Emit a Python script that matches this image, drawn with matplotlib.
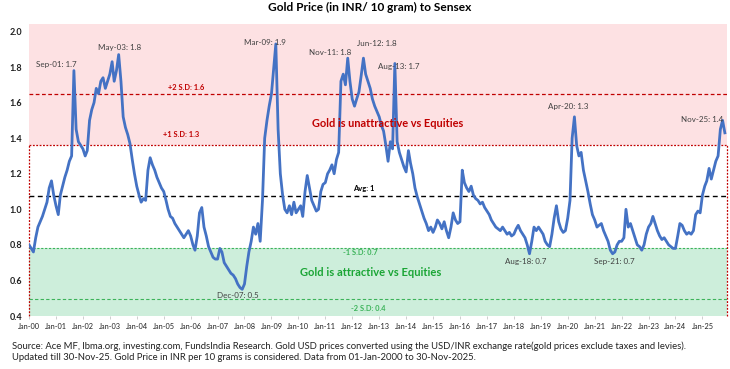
"""
Gold Price (INR / 10 gram) to Sensex ratio, with mean and S.D. bands.
"""
import numpy as np
import pandas as pd
import matplotlib
matplotlib.use("Agg")
import matplotlib.pyplot as plt

plt.rcParams["font.family"] = ["Lato", "DejaVu Sans"]

# monthly ratio, Jan-2000 .. Nov-2025
RATIO = {
    2000: [0.80, 0.78, 0.76, 0.84, 0.90, 0.93, 0.96, 1.00, 1.04, 1.12, 1.16, 1.08],
    2001: [1.02, 0.97, 1.08, 1.13, 1.18, 1.22, 1.27, 1.30, 1.78, 1.45, 1.38, 1.36],
    2002: [1.34, 1.30, 1.33, 1.50, 1.56, 1.60, 1.68, 1.65, 1.72, 1.74, 1.68, 1.72],
    2003: [1.76, 1.83, 1.72, 1.78, 1.87, 1.72, 1.52, 1.46, 1.42, 1.37, 1.28, 1.20],
    2004: [1.13, 1.08, 1.04, 1.06, 1.05, 1.22, 1.29, 1.25, 1.22, 1.18, 1.15, 1.12],
    2005: [1.10, 1.05, 1.00, 0.96, 0.95, 0.92, 0.90, 0.88, 0.86, 0.84, 0.86, 0.88],
    2006: [0.85, 0.80, 0.77, 0.85, 0.98, 1.01, 0.90, 0.85, 0.79, 0.76, 0.73, 0.72],
    2007: [0.72, 0.78, 0.76, 0.70, 0.68, 0.66, 0.64, 0.63, 0.61, 0.58, 0.56, 0.55],
    2008: [0.58, 0.68, 0.76, 0.82, 0.90, 0.86, 0.92, 0.82, 1.05, 1.40, 1.50, 1.58],
    2009: [1.65, 1.80, 1.93, 1.45, 1.20, 1.08, 1.00, 0.98, 1.02, 0.97, 1.04, 0.98],
    2010: [1.00, 1.02, 0.96, 1.10, 1.19, 1.12, 1.05, 1.02, 0.99, 1.00, 1.10, 1.14],
    2011: [1.15, 1.20, 1.22, 1.25, 1.20, 1.28, 1.32, 1.72, 1.76, 1.70, 1.85, 1.72],
    2012: [1.62, 1.58, 1.62, 1.66, 1.75, 1.85, 1.76, 1.72, 1.68, 1.62, 1.58, 1.55],
    2013: [1.52, 1.47, 1.44, 1.36, 1.27, 1.38, 1.34, 1.82, 1.38, 1.32, 1.28, 1.24],
    2014: [1.21, 1.33, 1.26, 1.20, 1.12, 1.07, 1.03, 0.99, 0.95, 0.92, 0.88, 0.90],
    2015: [0.87, 0.90, 0.94, 0.92, 0.89, 0.93, 0.88, 0.84, 0.90, 0.98, 0.94, 0.92],
    2016: [0.93, 1.22, 1.15, 1.12, 1.10, 1.13, 1.08, 1.06, 1.05, 1.03, 1.04, 1.01],
    2017: [0.99, 0.97, 0.94, 0.92, 0.90, 0.89, 0.88, 0.90, 0.88, 0.86, 0.87, 0.85],
    2018: [0.86, 0.89, 0.91, 0.88, 0.86, 0.84, 0.80, 0.75, 0.82, 0.90, 0.88, 0.90],
    2019: [0.88, 0.86, 0.82, 0.80, 0.79, 0.86, 0.95, 1.02, 0.93, 0.89, 0.87, 0.88],
    2020: [0.95, 1.05, 1.40, 1.52, 1.36, 1.30, 1.32, 1.22, 1.16, 1.10, 1.03, 0.97],
    2021: [0.94, 0.90, 0.91, 0.92, 0.88, 0.85, 0.82, 0.77, 0.75, 0.76, 0.80, 0.82],
    2022: [0.82, 0.84, 1.00, 0.90, 0.92, 0.88, 0.84, 0.80, 0.79, 0.77, 0.80, 0.86],
    2023: [0.90, 0.92, 0.96, 0.92, 0.88, 0.85, 0.83, 0.84, 0.82, 0.80, 0.79, 0.78],
    2024: [0.78, 0.85, 0.92, 0.91, 0.88, 0.86, 0.87, 0.86, 0.88, 0.97, 0.99, 0.98],
    2025: [1.08, 1.13, 1.16, 1.23, 1.17, 1.22, 1.27, 1.30, 1.45, 1.50, 1.43],
}

AVG = 1.072
PLUS_1SD = 1.360
PLUS_2SD = 1.648
MINUS_1SD = 0.784
MINUS_2SD = 0.496

# (label, axes-x, axes-y)
CALLOUTS = [
    ("Sep-01: 1.7", 0.039, 0.863),
    ("May-03: 1.8", 0.130, 0.921),
    ("Mar-09: 1.9", 0.338, 0.938),
    ("Nov-11: 1.8", 0.431, 0.904),
    ("Jun-12: 1.8", 0.499, 0.932),
    ("Aug-13: 1.7", 0.530, 0.856),
    ("Apr-20: 1.3", 0.772, 0.716),
    ("Nov-25: 1.4", 0.964, 0.672),
    ("Dec-07: 0.5", 0.299, 0.069),
    ("Aug-18: 0.7", 0.711, 0.188),
    ("Sep-21: 0.7", 0.839, 0.185),
]

YEARS = list(range(2000, 2026))
TICK_LABELS = [f"Jan-{y % 100:02d}" for y in YEARS]

TITLE = "Gold Price (in INR/ 10 gram) to Sensex"
SOURCE = ("Source: Ace MF, lbma.org, investing.com, FundsIndia Research. Gold USD prices converted "
          "using the USD/INR exchange rate(gold prices exclude taxes and levies).\n"
          "Updated till 30-Nov-25. Gold Price in INR per 10 grams is considered. "
          "Data from 01-Jan-2000 to 30-Nov-2025.")

values = [v for y in sorted(RATIO) for v in RATIO[y]]
dates = pd.date_range("2000-01-01", periods=len(values), freq="MS")

RED = "#C00000"
GREEN_LINE = "#3CB35A"
GREEN_TXT = "#1AA535"
BLUE = "#4472C4"

fig = plt.figure(figsize=(7.30, 3.69), dpi=100)
ax = fig.add_axes([29 / 730, 1 - 316 / 369, 698 / 730, 292 / 369])

x0, x1 = pd.Timestamp("2000-01-01"), pd.Timestamp("2025-11-30")
ymin, ymax = 0.4, 2.042
ax.set_xlim(x0, x1)
ax.set_ylim(ymin, ymax)

ax.axhspan(PLUS_1SD, ymax, color="#FDE1E3", zorder=0, lw=0)
ax.axhspan(ymin, MINUS_1SD, color="#CDEEDB", zorder=0, lw=0)

# dotted red box around the neutral zone
dot = (0, (1.5, 1.2))
ax.axhline(PLUS_1SD, color=RED, lw=0.9, ls=dot, zorder=1)
ax.plot([x0, x0], [ymin, PLUS_1SD], color=RED, lw=0.9, ls=dot, zorder=1, clip_on=False)
ax.plot([x1, x1], [ymin, PLUS_1SD], color=RED, lw=0.9, ls=dot, zorder=1, clip_on=False)

ax.axhline(PLUS_2SD, color=RED, lw=0.9, ls=(0, (3, 2)), zorder=1)
ax.axhline(AVG, color="black", lw=1.0, ls=(0, (3.5, 2.5)), zorder=1)
ax.axhline(MINUS_1SD, color=GREEN_LINE, lw=0.8, ls=(0, (2, 1.5)), zorder=1)
ax.axhline(MINUS_2SD, color=GREEN_LINE, lw=0.8, ls=(0, (3, 2)), zorder=1)

ax.plot(dates, values, color=BLUE, lw=2.0, zorder=3)

ax.set_xticks([pd.Timestamp(f"{y}-01-01") for y in YEARS])
ax.set_xticklabels(TICK_LABELS)
ax.set_yticks(np.arange(0.4, 2.01, 0.2))
ax.yaxis.set_major_formatter(plt.FormatStrFormatter("%.1f"))
ax.tick_params(axis="x", labelsize=5.3, length=2.5, width=0.5, color="#BBBBBB", pad=2.5, labelcolor="#222222")
ax.tick_params(axis="y", labelsize=6.5, length=0, pad=5, labelcolor="#222222")
for lab in ax.get_yticklabels():
    lab.set_fontweight("bold")
for s in ax.spines.values():
    s.set_visible(False)

for txt, xa, ya in CALLOUTS:
    ax.text(xa, ya, txt, transform=ax.transAxes, ha="center", va="center",
            fontsize=5.8, color="#404040", zorder=4)

ax.text(0.2256, 0.781, "+2 S.D: 1.6", transform=ax.transAxes, ha="center", va="center",
        fontsize=5.4, color=RED, fontweight="bold")
ax.text(0.2185, 0.620, "+1 S.D: 1.3", transform=ax.transAxes, ha="center", va="center",
        fontsize=5.4, color=RED, fontweight="bold")
ax.text(0.479, 0.438, "Avg: 1", transform=ax.transAxes, ha="center", va="center",
        fontsize=5.4, color="black", fontweight="bold")
ax.text(0.475, 0.216, "-1 S.D: 0.7", transform=ax.transAxes, ha="center", va="center",
        fontsize=5.4, color=GREEN_LINE, fontweight="bold")
ax.text(0.486, 0.027, "-2 S.D: 0.4", transform=ax.transAxes, ha="center", va="center",
        fontsize=5.4, color=GREEN_LINE, fontweight="bold")
ax.text(0.514, 0.660, "Gold is unattractive vs Equities", transform=ax.transAxes,
        ha="center", va="center", fontsize=7.9, color=RED, fontweight="bold")
ax.text(0.490, 0.150, "Gold is attractive vs Equities", transform=ax.transAxes,
        ha="center", va="center", fontsize=8.0, color=GREEN_TXT, fontweight="bold")

fig.text(370 / 730, 1 - 7 / 369, TITLE, ha="center", va="center", fontsize=8.6, fontweight="bold")
fig.text(12 / 730, 1 - 351.5 / 369, SOURCE, ha="left", va="center", fontsize=6.85,
         color="#222222", linespacing=1.3)

fig.savefig("out.png", dpi=100)
